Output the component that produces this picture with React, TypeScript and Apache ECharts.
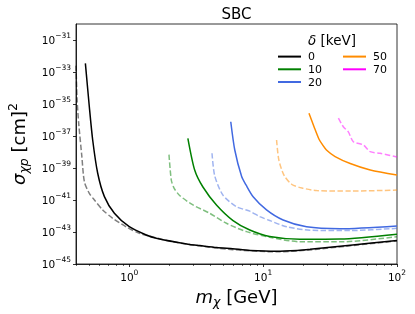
import React, { useEffect, useRef } from 'react';
import * as echarts from 'echarts';

// δ = 0 keV
const massD0 = [0.47, 0.503, 0.533, 0.581, 0.652, 0.774, 1.0, 1.34, 1.59, 2.82, 3.36, 4.5, 5.93, 8.0, 12.6, 18.0, 22.4, 44.7, 100];
const sigmaD0 = [3.47e-33, 6.76e-36, 5.62e-38, 4.68e-40, 1.62e-41, 1.48e-42, 2.14e-43, 6.46e-44, 4.07e-44, 1.66e-44, 1.41e-44, 1.07e-44, 8.9e-45, 7.1e-45, 6.3e-45, 7.1e-45, 8.3e-45, 1.51e-44, 2.95e-44];
const massD0dash = [0.4, 0.408, 0.419, 0.442, 0.462, 0.503, 0.549, 0.633, 0.752, 0.948, 1.19, 2.12, 3.77, 5.93, 12.6, 22.4, 44.7, 100];
const sigmaD0dash = [2.5e-33, 1.6e-35, 6.3e-37, 5.6e-39, 1.38e-40, 2.6e-41, 1.0e-41, 2.4e-42, 7.2e-43, 2.1e-43, 8.3e-44, 2.45e-44, 1.2e-44, 7.9e-45, 5.75e-45, 7.6e-45, 1.38e-44, 2.75e-44];

// δ = 10 keV
const massD10 = [2.74, 3.08, 3.55, 4.48, 5.96, 7.95, 11.2, 18.8, 37.6, 100];
const sigmaD10 = [7.2e-38, 7.5e-40, 6.5e-41, 4.9e-42, 5.2e-43, 1.33e-43, 5.25e-44, 3.5e-44, 3.6e-44, 7.2e-44];
const massD10dash = [1.98, 2.06, 2.16, 2.38, 2.99, 3.99, 5.32, 7.51, 11.2, 18.8, 39.5, 100];
const sigmaD10dash = [6.9e-39, 1.78e-40, 5.6e-41, 1.9e-41, 4.9e-42, 1.48e-42, 3.5e-43, 1.05e-43, 4.7e-44, 2.45e-44, 2.45e-44, 5.1e-44];

// δ = 20 keV
const massD20 = [5.73, 6.14, 6.91, 7.45, 8.42, 10.6, 14.1, 21.1, 37.6, 100];
const sigmaD20 = [7.8e-37, 1.33e-38, 2.9e-40, 8.7e-41, 1.6e-41, 2.4e-42, 5.6e-43, 2.1e-43, 1.6e-43, 2.4e-43];
const massD20dash = [4.15, 4.35, 5.01, 6.32, 7.95, 9.44, 11.2, 15.0, 22.4, 44.7, 100];
const sigmaD20dash = [8.3e-39, 3.2e-40, 2.0e-41, 3.8e-42, 2.0e-42, 9.1e-43, 5.2e-43, 2.1e-43, 1.3e-43, 1.23e-43, 1.7e-43];

// δ = 50 keV
const massD50 = [22.0, 24.0, 26.1, 27.5, 30.0, 34.5, 44.7, 63.1, 100];
const sigmaD50 = [2.6e-36, 3.8e-37, 6.5e-38, 3.2e-38, 1.23e-38, 5.2e-39, 1.9e-39, 7.5e-40, 3.6e-40];
const massD50dash = [12.6, 13.1, 14.3, 16.4, 19.5, 25.1, 44.7, 100];
const sigmaD50dash = [5.6e-38, 3.2e-39, 3.6e-40, 9.3e-41, 5.6e-41, 3.9e-41, 3.6e-41, 4.2e-41];

// δ = 70 keV (solid curve lies outside the plotted range)
const massD70: number[] = [];
const sigmaD70: number[] = [];
const massD70dash = [36.5, 39.7, 43.3, 47.2, 56.1, 63.0, 74.8, 100];
const sigmaD70dash = [1.3e-36, 3.8e-37, 1.8e-37, 4.4e-38, 2.75e-38, 1.05e-38, 8.3e-39, 4.9e-39];

const legendCol1 = ['0', '10', '20'];
const legendCol2 = ['50', '70'];

const xLabelTicks = [1, 10, 100];
const xMinorTicks = [0.4, 0.5, 0.6, 0.7, 0.8, 0.9, 2, 3, 4, 5, 6, 7, 8, 9, 20, 30, 40, 50, 60, 70, 80, 90];
// y axis is drawn in decades (log10 of the cross-section)
const yDecadeTicks = [-45, -43, -41, -39, -37, -35, -33, -31];
const yDecadeMin = -45;
const yDecadeMax = -30;

const FONT = 'DejaVu Sans';

function pairs(xs: number[], ys: number[]) {
  return xs.map((x, i) => [x, Math.log10(ys[i])]);
}

function expText(e: number) {
  return e < 0 ? '\u2212' + String(-e) : String(e);
}

export default function App() {
  const ref = useRef<HTMLDivElement>(null);
  useEffect(() => {
    if (!ref.current) return;
    const chart = echarts.init(ref.current, undefined, { renderer: 'svg' });

    const solid = (name: string, color: string, xs: number[], ys: number[]) => ({
      type: 'line', name, data: pairs(xs, ys), showSymbol: false, symbol: 'none',
      smooth: 0.25, color, lineStyle: { color, width: 1.5, type: 'solid' },
      emphasis: { disabled: true }, silent: true, clip: true,
    });
    const dashed = (name: string, color: string, xs: number[], ys: number[]) => ({
      type: 'line', name, data: pairs(xs, ys), showSymbol: false, symbol: 'none',
      smooth: 0.25, color, lineStyle: { color, width: 1.5, type: [5.5, 2.4], opacity: 0.5 },
      emphasis: { disabled: true }, silent: true, clip: true,
    });

    const labelRich = {
      sup: { fontSize: 7.5, fontFamily: FONT, color: '#000', verticalAlign: 'top', lineHeight: 9 },
    };

    const legendBase = {
      orient: 'vertical', top: 51, padding: 0,
      itemWidth: 23, itemHeight: 14, itemGap: 1.5, selectedMode: false,
      itemStyle: { opacity: 0 },
      textStyle: { fontSize: 11, color: '#000', fontFamily: FONT, padding: [0, 0, 0, 2] },
    };

    const option: any = {
      animation: false,
      textStyle: { fontFamily: FONT },
      grid: {
        left: 76, top: 24, right: 18, bottom: 50, show: true, borderColor: '#000', borderWidth: 0.8,
        backgroundColor: 'transparent', containLabel: false, outerBoundsMode: 'none',
      },
      xAxis: [
        {
          type: 'log', logBase: 10, min: 0.4, max: 100, gridIndex: 0, position: 'bottom',
          axisLine: { show: true, lineStyle: { color: '#000', width: 0.8 } },
          axisTick: { show: true, customValues: xLabelTicks, length: 3, inside: false, lineStyle: { color: '#000', width: 0.8 } },
          axisLabel: {
            show: true, customValues: xLabelTicks,
            formatter: (v: number) => '10{sup|' + expText(Math.round(Math.log10(v))) + '}',
            margin: 4, fontSize: 10.5, color: '#000', fontFamily: FONT, lineHeight: 18, rich: labelRich,
          },
          splitLine: { show: false },
          minorTick: { show: false },
          name: '{i|m}{s|\u03c7} [GeV]',
          nameLocation: 'middle', nameGap: 20, nameMoveOverlap: false,
          nameTextStyle: {
            fontSize: 18, color: '#000', fontFamily: FONT, lineHeight: 24,
            rich: {
              i: { fontSize: 18, fontStyle: 'italic', fontFamily: FONT, color: '#000', lineHeight: 24 },
              s: { fontSize: 12.5, fontStyle: 'italic', fontFamily: FONT, color: '#000', verticalAlign: 'bottom', lineHeight: 16 },
            },
          },
        },
        {
          type: 'log', logBase: 10, min: 0.4, max: 100, gridIndex: 0, position: 'bottom',
          axisLine: { show: false },
          axisTick: { show: true, customValues: xMinorTicks, length: 2, inside: false, lineStyle: { color: '#000', width: 0.6 } },
          axisLabel: { show: false },
          splitLine: { show: false },
        },
      ],
      yAxis: [
        {
          type: 'value', min: yDecadeMin, max: yDecadeMax, gridIndex: 0,
          axisLine: { show: true, lineStyle: { color: '#000', width: 0.8 } },
          axisTick: { show: true, customValues: yDecadeTicks, length: 3, inside: false, lineStyle: { color: '#000', width: 0.8 } },
          axisLabel: {
            show: true, customValues: yDecadeTicks,
            formatter: (v: number) => '10{sup|' + expText(Math.round(v)) + '}',
            margin: 5, fontSize: 10.5, color: '#000', fontFamily: FONT, lineHeight: 18, rich: labelRich,
          },
          splitLine: { show: false },
          name: '{i|\u03c3}{s|\u03c7p} [cm]{sup|2}',
          nameLocation: 'middle', nameGap: 46, nameRotate: 90, nameMoveOverlap: false,
          nameTextStyle: {
            fontSize: 18, color: '#000', fontFamily: FONT, lineHeight: 24,
            rich: {
              i: { fontSize: 18, fontStyle: 'italic', fontFamily: FONT, color: '#000', lineHeight: 24 },
              s: { fontSize: 12.5, fontStyle: 'italic', fontFamily: FONT, color: '#000', verticalAlign: 'bottom', lineHeight: 16 },
              sup: { fontSize: 12.5, fontFamily: FONT, color: '#000', verticalAlign: 'top', lineHeight: 14 },
            },
          },
        },
      ],
      legend: [
        { ...legendBase, data: legendCol1, left: 277 },
        { ...legendBase, data: legendCol2, left: 342 },
      ],
      graphic: [
        {
          type: 'text', x: 236.5, y: 14, silent: true,
          style: { text: 'SBC', fontSize: 15, fontFamily: FONT, fill: '#000', align: 'center', verticalAlign: 'middle' },
        },
        {
          type: 'text', x: 332, y: 40, silent: true,
          style: {
            text: '{i|\u03b4} [keV]', fontSize: 13.5, fontFamily: FONT, fill: '#000', align: 'center', verticalAlign: 'middle',
            rich: { i: { fontSize: 13.5, fontStyle: 'italic', fontFamily: FONT, fill: '#000' } },
          },
        },
      ],
      series: [
        dashed('0 dashed', '#000000', massD0dash, sigmaD0dash),
        dashed('10 dashed', '#008000', massD10dash, sigmaD10dash),
        dashed('20 dashed', '#4169E1', massD20dash, sigmaD20dash),
        dashed('50 dashed', '#FF8C00', massD50dash, sigmaD50dash),
        dashed('70 dashed', '#FF00FF', massD70dash, sigmaD70dash),
        solid('0', '#000000', massD0, sigmaD0),
        solid('10', '#008000', massD10, sigmaD10),
        solid('20', '#4169E1', massD20, sigmaD20),
        solid('50', '#FF8C00', massD50, sigmaD50),
        solid('70', '#FF00FF', massD70, sigmaD70),
      ],
    };

    chart.setOption(option);
    return () => chart.dispose();
  }, []);

  return <div ref={ref} style={{ position: 'fixed', left: 0, top: 0, width: 415, height: 314 }} />;
}
